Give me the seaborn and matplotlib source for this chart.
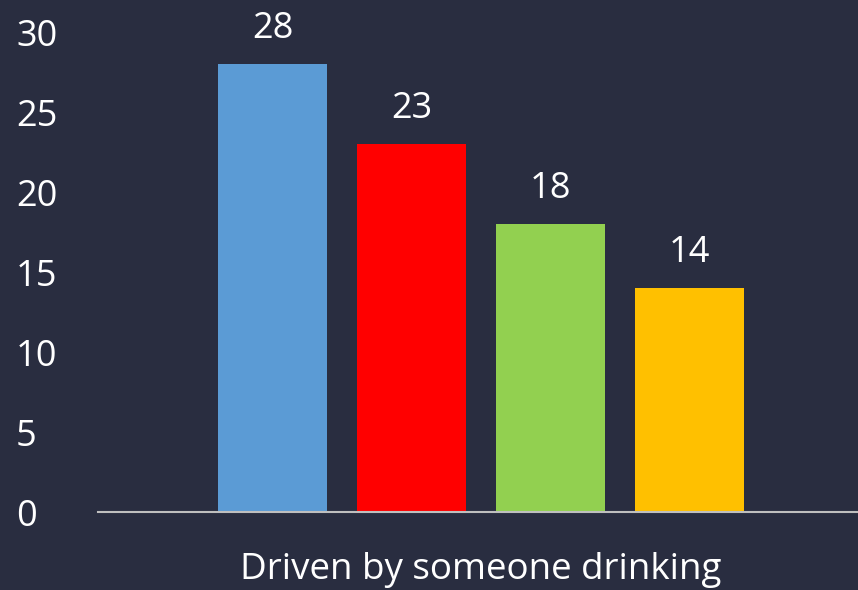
import pandas as pd
import matplotlib
matplotlib.use("Agg")
import matplotlib.pyplot as plt
import seaborn as sns

category = ["Driven by someone drinking"]
series = ["S1", "S2", "S3", "S4"]
values = [28, 23, 18, 14]
colors = ["#5B9BD5", "#FF0000", "#92D050", "#FFC000"]
yticks = [0, 5, 10, 15, 20, 25, 30]

df = pd.DataFrame({
    "Category": category * len(series),
    "Series": series,
    "Value": values,
})

bg = "#292D40"
sns.set_style("dark")
plt.rcParams["font.family"] = ["Open Sans", "DejaVu Sans"]

fig = plt.figure(figsize=(8.58, 5.90), dpi=100, facecolor=bg)
ax = fig.add_axes([98 / 858, 78 / 590, 766 / 858, 480 / 590])
ax.set_facecolor(bg)

sns.barplot(data=df, x="Category", y="Value", hue="Series", palette=colors,
            width=0.726, gap=0.21, legend=False, ax=ax, saturation=1,
            linewidth=0, edgecolor="none")

for c in ax.containers:
    ax.bar_label(c, padding=12, color="white", fontsize=26)

ax.set_xlim(-0.5, 0.5)
ax.set_ylim(0, 30)
ax.set_yticks(yticks)
ax.tick_params(axis="y", length=0, labelsize=26, labelcolor="white", pad=59)
ax.tick_params(axis="x", length=0, labelsize=26.5, labelcolor="white", pad=29)
for lab in ax.get_yticklabels():
    lab.set_horizontalalignment("left")
ax.set_xlabel("")
ax.set_ylabel("")
ax.grid(False)
for s in ["top", "right", "left"]:
    ax.spines[s].set_visible(False)
ax.spines["bottom"].set_color("#BFBFBF")
ax.spines["bottom"].set_linewidth(1.5)

fig.savefig("out.png", facecolor=bg)
